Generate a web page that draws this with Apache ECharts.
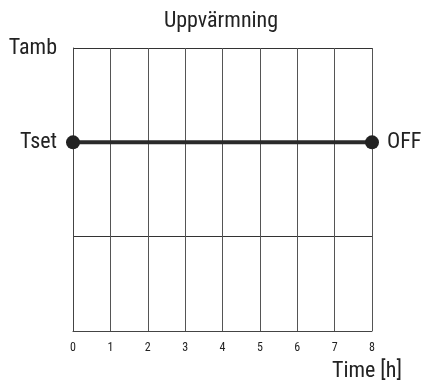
<!DOCTYPE html>
<html>
<head>
<meta charset="utf-8">
<script src="https://cdn.jsdelivr.net/npm/echarts@6/dist/echarts.min.js"></script>
<style>
  html, body { margin: 0; padding: 0; background: #fff; }
  #chart { width: 423px; height: 385px; }
</style>
</head>
<body>
<div id="chart"></div>
<script>
// Heating schedule: set temperature held over eight hours, then switched off
const hours = [0, 1, 2, 3, 4, 5, 6, 7, 8];
const levelNames = { 3: 'Tamb', 2: 'Tset' };
const setpointStart = [0, 2];
const setpointEnd = [8, 2];
const endLabel = 'OFF';
const chartTitle = 'Uppvärmning';
const xAxisTitle = 'Time [h]';

const FONT = '"Roboto Condensed", "Liberation Sans", Arial, sans-serif';
const TEXT = '#222';
const chart = echarts.init(document.getElementById('chart'));

chart.setOption({
  animation: false,
  backgroundColor: '#fff',
  grid: { left: 73, right: 51, top: 48, bottom: 54 },
  graphic: [
    { type: 'text', x: 221, y: 21,
      style: { text: chartTitle, font: '22px ' + FONT, fill: TEXT,
               textAlign: 'center', textVerticalAlign: 'middle' } },
    { type: 'text', x: 402, y: 371,
      style: { text: xAxisTitle, font: '22px ' + FONT, fill: TEXT,
               textAlign: 'right', textVerticalAlign: 'middle' } }
  ],
  xAxis: {
    type: 'value', min: 0, max: 8, interval: 1,
    axisLine: { show: true, lineStyle: { color: '#444', width: 1 } },
    axisTick: { show: false },
    splitLine: { show: true, lineStyle: { color: '#555', width: 1 } },
    axisLabel: {
      margin: 11, fontSize: 12, color: TEXT, fontFamily: FONT,
      formatter: v => hours.includes(v) ? String(v) : ''
    }
  },
  yAxis: {
    type: 'value', min: 0, max: 3, interval: 1,
    axisLine: { show: true, lineStyle: { color: '#444', width: 1 } },
    axisTick: { show: false },
    splitLine: { show: true, lineStyle: { color: '#333', width: 1 } },
    axisLabel: {
      margin: 16, fontSize: 22, color: TEXT, fontFamily: FONT,
      formatter: v => levelNames[v] || ''
    }
  },
  series: [{
    type: 'line',
    data: [setpointStart, setpointEnd],
    symbol: 'circle',
    symbolSize: 14,
    lineStyle: { color: '#2a2a2a', width: 4 },
    itemStyle: { color: '#222' },
    label: {
      show: true, position: 'right', distance: 8,
      fontSize: 22, color: TEXT, fontFamily: FONT,
      formatter: p => p.dataIndex === 1 ? endLabel : ''
    }
  }]
});
</script>
</body>
</html>
